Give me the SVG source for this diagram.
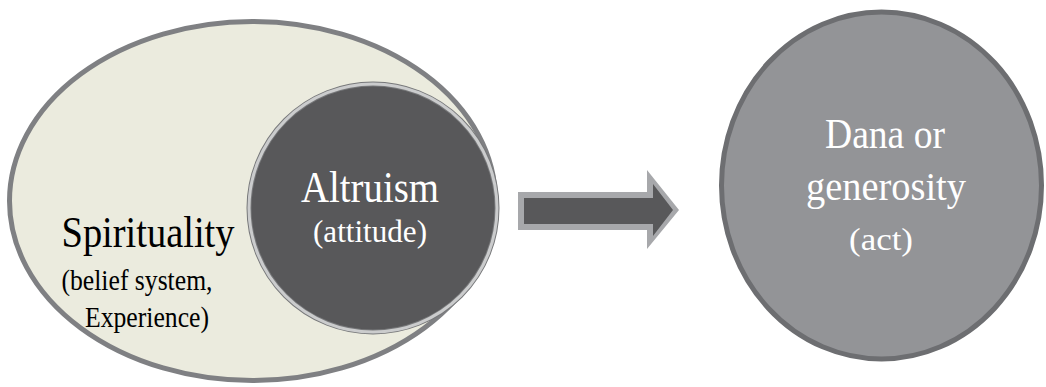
<svg xmlns="http://www.w3.org/2000/svg" width="1046" height="387" viewBox="0 0 1046 387">
<defs>
<style type="text/css">
text{font-family:"Liberation Serif","Times New Roman",serif;text-anchor:middle}
.w{fill:#ffffff}
.b{fill:#000000}
</style>
</defs>
<rect width="1046" height="387" fill="#ffffff"/>
<g id="spirituality">
<ellipse cx="252.5" cy="201" rx="243" ry="179.5" fill="#ebebde" stroke="#7f8083" stroke-width="5"/>
<text class="b" x="148" y="247" font-size="44" textLength="173" lengthAdjust="spacingAndGlyphs">Spirituality</text>
<text class="b" x="137" y="290" font-size="30" textLength="151" lengthAdjust="spacingAndGlyphs">(belief system,</text>
<text class="b" x="147" y="327" font-size="30" textLength="124" lengthAdjust="spacingAndGlyphs">Experience)</text>
</g>
<g id="altruism">
<circle cx="373" cy="208" r="124" fill="#58585a" stroke="#77787a" stroke-width="5"/>
<circle cx="373" cy="208" r="124" fill="none" stroke="#cbcccd" stroke-width="3"/>
<text class="w" x="370" y="202" font-size="45" textLength="138" lengthAdjust="spacingAndGlyphs">Altruism</text>
<text class="w" x="370" y="242" font-size="31" textLength="114" lengthAdjust="spacingAndGlyphs">(attitude)</text>
</g>
<g id="connectors">
<polygon points="518,192 647,192 647,170 679,210 647,249 647,230 518,230" fill="#a7a8ab"/>
<polygon points="524,198 653,198 653,184 673,210 653,236 653,224 524,224" fill="#58585a"/>
</g>
<g id="dana">
<ellipse cx="881.5" cy="185.5" rx="160" ry="173.5" fill="#939497" stroke="#6d6e71" stroke-width="5"/>
<text class="w" x="885" y="148" font-size="43" textLength="120" lengthAdjust="spacingAndGlyphs">Dana or</text>
<text class="w" x="886" y="200" font-size="41" textLength="160" lengthAdjust="spacingAndGlyphs">generosity</text>
<text class="w" x="881" y="250" font-size="32" textLength="64" lengthAdjust="spacingAndGlyphs">(act)</text>
</g>
</svg>
